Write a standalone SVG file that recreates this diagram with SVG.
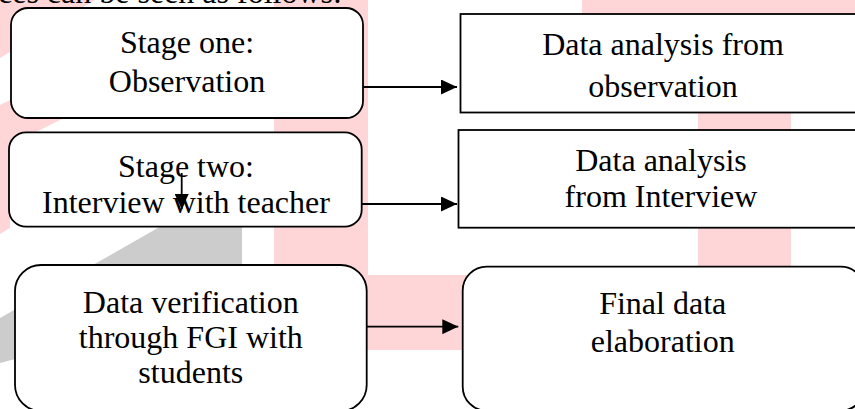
<svg xmlns="http://www.w3.org/2000/svg" width="855" height="409" viewBox="0 0 855 409">
  <style>
    .wm-pink { fill: #FFD6D8; }
    .wm-grey { fill: #CCCCCC; }
    .box { fill: #FFFFFF; stroke: #000000; stroke-width: 1.8; }
    .lbl { font-family: "Liberation Serif", "Times New Roman", serif; font-size: 32px; fill: #000000; text-anchor: middle; }
    .top { font-family: "Liberation Serif", "Times New Roman", serif; font-size: 32px; fill: #000000; }
    .conn { stroke: #000000; stroke-width: 1.8; fill: none; }
  </style>
  <defs>
    <marker id="arrow" markerUnits="userSpaceOnUse" markerWidth="16" markerHeight="15" refX="16" refY="7.5" orient="auto">
      <polygon points="0,0 16,7.5 0,15" fill="#000000"/>
    </marker>
    <marker id="arrowSmall" markerUnits="userSpaceOnUse" markerWidth="15" markerHeight="14" refX="15" refY="7" orient="auto">
      <polygon points="0,0 15,7 0,14" fill="#000000"/>
    </marker>
  </defs>

  <rect width="855" height="409" fill="#FFFFFF"/>

  <g id="watermark">
    <polygon class="wm-pink" points="0,0 95,0 0,58"/>
    <polygon class="wm-pink" points="0,105 100,55 140,80 0,150"/>
    <polygon class="wm-pink" points="0,140 10,135 10,228 0,234"/>
    <polygon class="wm-grey" points="242,180 242,300 0,363 0,318"/>
    <rect class="wm-pink" x="274" y="0" width="94" height="350"/>
    <rect class="wm-pink" x="274" y="275" width="517" height="75"/>
    <rect class="wm-pink" x="698" y="0" width="93" height="350"/>
    <rect class="wm-pink" x="582" y="0" width="273" height="40"/>
  </g>

  <text class="top" x="-2" y="2.5">ces can be seen as follows:</text>

  <g id="node-stage-one">
    <rect class="box" x="11" y="8" width="352" height="110" rx="17" ry="17"/>
    <text class="lbl" x="187" y="53.3">Stage one:</text>
    <text class="lbl" x="187" y="91.5">Observation</text>
  </g>

  <g id="node-analysis-observation">
    <rect class="box" x="460.5" y="14" width="405" height="98.5"/>
    <text class="lbl" x="663" y="55">Data analysis from</text>
    <text class="lbl" x="663" y="96.7">observation</text>
  </g>

  <g id="node-stage-two">
    <rect class="box" x="9" y="132.3" width="352.7" height="94.4" rx="17" ry="17"/>
    <text class="lbl" x="186" y="177">Stage two:</text>
    <text class="lbl" x="186" y="213">Interview with teacher</text>
  </g>

  <g id="node-analysis-interview">
    <rect class="box" x="458.5" y="130" width="405" height="97.7"/>
    <text class="lbl" x="661" y="170.5">Data analysis</text>
    <text class="lbl" x="661" y="207">from Interview</text>
  </g>

  <g id="node-verification">
    <rect class="box" x="15" y="265" width="351.7" height="146" rx="26" ry="26"/>
    <text class="lbl" x="190.8" y="312.5">Data verification</text>
    <text class="lbl" x="190.8" y="347.7">through FGI with</text>
    <text class="lbl" x="190.8" y="382.5">students</text>
  </g>

  <g id="node-final">
    <rect class="box" x="462.7" y="266.7" width="402" height="144" rx="24" ry="24"/>
    <text class="lbl" x="662.7" y="314">Final data</text>
    <text class="lbl" x="662.7" y="351.7">elaboration</text>
  </g>

  <g id="connectors">
    <line class="conn" x1="363" y1="87" x2="457" y2="87" marker-end="url(#arrow)"/>
    <line class="conn" x1="361.7" y1="204" x2="457" y2="204" marker-end="url(#arrow)"/>
    <line class="conn" x1="366.7" y1="326.7" x2="458.3" y2="326.7" marker-end="url(#arrow)"/>
    <line class="conn" x1="181.7" y1="173" x2="181.7" y2="209" marker-end="url(#arrowSmall)"/>
  </g>
</svg>
